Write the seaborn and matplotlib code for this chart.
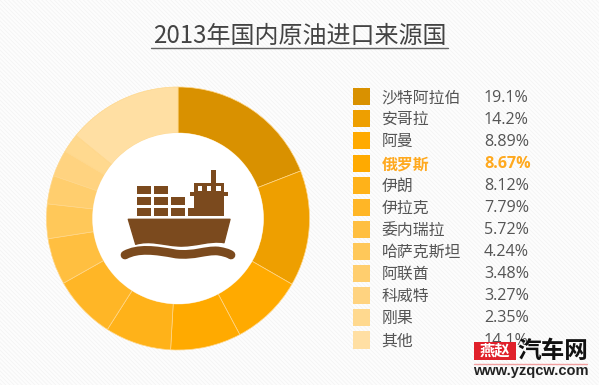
import pandas as pd
import matplotlib.pyplot as plt
from matplotlib.patches import Circle, PathPatch, Rectangle
from matplotlib.path import Path
import seaborn as sns

sns.set_style("white")
plt.rcParams["font.family"] = ["Noto Sans CJK SC", "DejaVu Sans"]
plt.rcParams["hatch.linewidth"] = 0.6

title = "2013年国内原油进口来源国"
countries = ["沙特阿拉伯", "安哥拉", "阿曼", "俄罗斯", "伊朗", "伊拉克",
             "委内瑞拉", "哈萨克斯坦", "阿联酋", "科威特", "刚果", "其他"]
shares = [19.1, 14.2, 8.89, 8.67, 8.12, 7.79, 5.72, 4.24, 3.48, 3.27, 2.35, 14.1]
labels = ["19.1%", "14.2%", "8.89%", "8.67%", "8.12%", "7.79%",
          "5.72%", "4.24%", "3.48%", "3.27%", "2.35%", "14.1%"]
colors = ["#d99100", "#ee9f00", "#ffaa00", "#ffaa00", "#ffb219", "#ffb626",
          "#ffbf40", "#ffc859", "#ffce6e", "#ffd380", "#ffd98f", "#ffdfa3"]
legend_y = [96.5, 118.5, 140.5, 163.5, 185.5, 207.5, 229.5, 251.5, 273.5, 295.5, 317.5, 340]
highlight = "俄罗斯"

W, H = 599, 385
BROWN = "#7b4a1e"

fig = plt.figure(figsize=(W / 100, H / 100), dpi=100)
fig.patch.set_facecolor("#fdfdfd")
fig.patch.set_edgecolor("#f4f4f4")
fig.patch.set_hatch("\\\\\\\\\\\\\\\\")

# donut
cx, cy, r_out, r_in = 178, 218.5, 131.5, 85.5
ax_pie = fig.add_axes([(cx - r_out) / W, (H - cy - r_out) / H, 2 * r_out / W, 2 * r_out / H])
ax_pie.pie(shares, colors=colors, startangle=90, counterclock=False, radius=1,
           wedgeprops={"width": 1 - r_in / r_out, "edgecolor": "#ffd78a", "linewidth": 0.5})
ax_pie.add_patch(Circle((0, 0), r_in / r_out, facecolor="white", edgecolor="none", zorder=5))
ax_pie.set_xlim(-1, 1)
ax_pie.set_ylim(-1, 1)

# everything else in pixel coordinates
ax = fig.add_axes([0, 0, 1, 1])
ax.patch.set_alpha(0)
ax.set_xlim(0, W)
ax.set_ylim(H, 0)
ax.axis("off")

ax.text(300, 36, title, ha="center", va="center", fontsize=17.3, color="#444444",
        fontweight="light")
ax.plot([151, 448], [47.5, 47.5], color="#666666", lw=1)

# legend
df = pd.DataFrame({"country": countries, "x": [361.5] * len(countries), "y": legend_y})
sns.scatterplot(data=df, x="x", y="y", hue="country", palette=dict(zip(countries, colors)),
                marker="s", s=150, linewidth=0, legend=False, ax=ax)
ax.set_xlim(0, W)
ax.set_ylim(H, 0)

for name, val, y in zip(countries, labels, legend_y):
    hot = name == highlight
    col = "#ffa91f" if hot else "#555555"
    wt = "bold" if hot else "normal"
    ax.text(381.5, y + 1, name, va="center", fontsize=11.4, color=col, fontweight=wt)
    ax.text(484, y + 1, val, va="center", fontsize=11.6, color=col, fontweight=wt,
            family="Open Sans")

# ship icon
for row, n in enumerate([2, 3, 4]):
    for i in range(n):
        ax.add_patch(Rectangle((136.7 + i * 17, 185.7 + row * 11.2), 14, 8, color=BROWN, lw=0))
ax.add_patch(Rectangle((194.3, 183.3), 29.7, 32.7, color=BROWN, lw=0))
ax.add_patch(Rectangle((190, 191.7), 38, 4.3, color=BROWN, lw=0))
ax.add_patch(Rectangle((211, 170), 4.7, 14, color=BROWN, lw=0))
for x in [197.7, 206.7, 216]:
    ax.add_patch(Rectangle((x, 186), 4.7, 4.7, color="white", lw=0))

hull = Path([(128.3, 219.3), (230, 219.3), (224, 242.7),
             (210, 240), (195, 247), (178, 246),
             (162, 245), (150, 240), (135.7, 244.3), (128.3, 219.3)],
            [Path.MOVETO, Path.LINETO, Path.LINETO,
             Path.CURVE4, Path.CURVE4, Path.CURVE4,
             Path.CURVE4, Path.CURVE4, Path.CURVE4, Path.CLOSEPOLY])
ax.add_patch(PathPatch(hull, facecolor=BROWN, edgecolor=BROWN, lw=1, joinstyle="round"))

wave = Path([(125, 255), (138, 248), (155, 250), (176, 254),
             (195, 256), (205, 250), (218, 251), (224, 252), (228, 253), (231, 255)],
            [Path.MOVETO, Path.CURVE4, Path.CURVE4, Path.CURVE4,
             Path.CURVE4, Path.CURVE4, Path.CURVE4,
             Path.CURVE4, Path.CURVE4, Path.CURVE4])
ax.add_patch(PathPatch(wave, facecolor="none", edgecolor=BROWN, lw=6.3, capstyle="round"))

# watermark
ax.add_patch(Rectangle((474, 342), 42, 18, color="#e0202a", lw=0, zorder=6))
ax.text(495, 351, "燕赵", ha="center", va="center", fontsize=11, color="white",
        fontweight="bold", style="italic", zorder=7)
ax.text(552.5, 351, "汽车网", ha="center", va="center", fontsize=17, color="#111111",
        fontweight="black", zorder=7)
ax.plot([474, 587], [363.5, 363.5], color="#f2a0a0", lw=1, zorder=6)
ax.text(531, 371.5, "www.yzqcw.com", ha="center", va="center", fontsize=10.5, color="#222222",
        family="Liberation Sans", fontweight="bold", zorder=7)

fig.savefig("out.png", dpi=100)
